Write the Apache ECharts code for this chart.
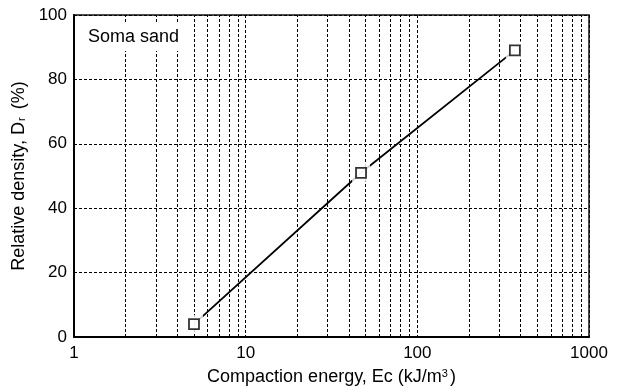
<!DOCTYPE html>
<html>
<head>
<meta charset="utf-8">
<script src="https://cdn.jsdelivr.net/npm/echarts@6/dist/echarts.min.js"></script>
<style>
  html, body { margin: 0; padding: 0; background: #fff; }
  #chart { width: 618px; height: 387px; }
</style>
</head>
<body>
<div id="chart"></div>
<script>
// Compaction energy (kJ/m^3) vs relative density (%) for Soma sand
const energy = [5, 47, 370];
const density = [4, 51, 89];
const xTicks = [1, 10, 100, 1000];
const yTicks = [0, 20, 40, 60, 80, 100];
// intermediate log grid positions (2..9 within each decade)
const minorX = [2, 3, 4, 5, 6, 7, 8, 9, 20, 30, 40, 50, 60, 70, 80, 90, 200, 300, 400, 500, 600, 700, 800, 900];

const FONT = '"Liberation Sans", Arial, sans-serif';
const points = energy.map((e, i) => [e, density[i]]);
const dash = [3, 2];

const chart = echarts.init(document.getElementById('chart'), null, { renderer: 'canvas' });
chart.setOption({
  animation: false,
  backgroundColor: '#fff',
  grid: {
    left: 74, right: 29, top: 15, bottom: 50,
    outerBoundsMode: 'none',
    containLabel: false,
    show: true, borderColor: '#111', borderWidth: 1.5, backgroundColor: 'transparent'
  },
  xAxis: {
    type: 'log', logBase: 10,
    min: xTicks[0], max: xTicks[xTicks.length - 1],
    name: 'Compaction energy, Ec (kJ/m{sup|3})',
    nameLocation: 'middle', nameGap: 31,
    nameTextStyle: {
      fontFamily: FONT, fontSize: 18, color: '#000',
      rich: { sup: { fontFamily: FONT, fontSize: 11, color: '#000', verticalAlign: 'top', padding: [0, 2, 8, 0] } }
    },
    axisLine: { lineStyle: { color: '#000', width: 2 } },
    axisTick: { show: false },
    axisLabel: {
      fontFamily: FONT, fontSize: 17, color: '#000', margin: 8,
      formatter: v => String(Math.round(v))
    },
    splitLine: { show: true, lineStyle: { color: '#000', width: 1, type: dash } }
  },
  yAxis: {
    type: 'value',
    min: yTicks[0], max: yTicks[yTicks.length - 1], interval: 20,
    name: 'Relative density, D{sub|r} (%)',
    nameLocation: 'middle', nameGap: 41,
    nameTextStyle: {
      fontFamily: FONT, fontSize: 18, color: '#000',
      rich: { sub: { fontFamily: FONT, fontSize: 11, color: '#000', verticalAlign: 'bottom', padding: [6, 3, 0, 1] } }
    },
    axisLine: { show: true, lineStyle: { color: '#000', width: 2 } },
    axisTick: { show: false },
    axisLabel: { fontFamily: FONT, fontSize: 17, color: '#000', margin: 7 },
    splitLine: { show: true, lineStyle: { color: '#000', width: 1, type: dash } }
  },
  series: [
    {
      type: 'line',
      data: points,
      symbol: 'none',
      lineStyle: { color: '#000', width: 1.8 },
      z: 3,
      markLine: {
        silent: true,
        symbol: 'none',
        label: { show: false },
        lineStyle: { color: '#000', width: 1, type: dash },
        data: minorX.map(v => ({ xAxis: v })),
        z: 1
      }
    },
    {
      // white halo so the line stops short of each marker
      type: 'scatter',
      data: points,
      symbol: 'rect',
      symbolSize: 18,
      itemStyle: { color: '#fff', borderWidth: 0 },
      z: 4,
      silent: true
    },
    {
      type: 'scatter',
      data: points,
      symbol: 'rect',
      symbolSize: 10,
      itemStyle: { color: '#fff', borderColor: '#000', borderWidth: 1.8 },
      z: 5
    }
  ],
  graphic: [
    {
      type: 'text',
      left: 84, top: 23,
      z: 100,
      style: {
        text: 'Soma sand',
        font: '18px ' + FONT,
        fill: '#000',
        backgroundColor: '#fff',
        padding: [5, 5, 5, 4]
      }
    }
  ]
});
</script>
</body>
</html>
